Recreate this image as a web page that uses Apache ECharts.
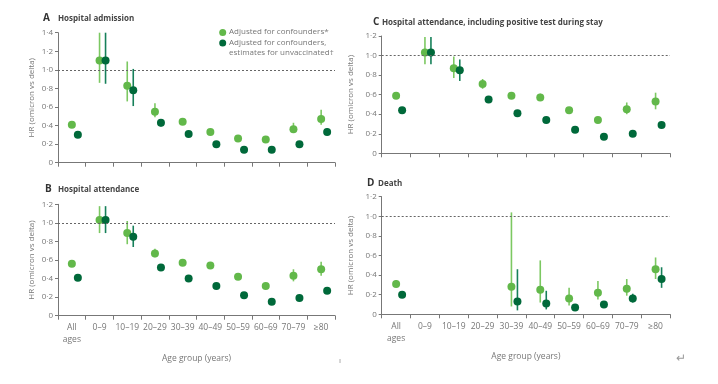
<!DOCTYPE html>
<html><head><meta charset="utf-8">
<script src="https://cdn.jsdelivr.net/npm/echarts@6/dist/echarts.min.js"></script>
<style>html,body{margin:0;padding:0;background:#fff}#c{width:718px;height:384px}</style>
</head><body><div id="c"></div>
<script>
const categories = ['All\nages','0–9','10–19','20–29','30–39','40–49','50–59','60–69','70–79','≥80'];
const legendNames = ['Adjusted for confounders*', 'Adjusted for confounders,\nestimates for unvaccinated†'];

// Panel A: Hospital admission
const A_adj    = [0.41,1.10,0.83,0.55,0.44,0.33,0.26,0.25,0.36,0.47];
const A_adj_lo = [0.39,0.86,0.66,0.49,0.41,0.31,0.24,0.23,0.32,0.41];
const A_adj_hi = [0.43,1.40,1.09,0.64,0.48,0.36,0.28,0.27,0.43,0.57];
const A_unv    = [0.30,1.10,0.78,0.43,0.31,0.20,0.14,0.14,0.20,0.33];
const A_unv_lo = [0.28,0.85,0.61,0.39,0.29,0.18,0.12,0.12,0.18,0.30];
const A_unv_hi = [0.32,1.40,1.01,0.47,0.34,0.22,0.16,0.16,0.23,0.37];
// Panel B: Hospital attendance
const B_adj    = [0.56,1.03,0.89,0.67,0.57,0.54,0.42,0.32,0.43,0.50];
const B_adj_lo = [0.54,0.89,0.77,0.63,0.54,0.51,0.39,0.29,0.37,0.43];
const B_adj_hi = [0.58,1.18,1.02,0.72,0.60,0.57,0.45,0.35,0.50,0.58];
const B_unv    = [0.41,1.03,0.85,0.52,0.40,0.32,0.22,0.15,0.19,0.27];
const B_unv_lo = [0.39,0.89,0.74,0.49,0.38,0.30,0.20,0.13,0.17,0.24];
const B_unv_hi = [0.43,1.18,0.97,0.55,0.42,0.34,0.24,0.17,0.21,0.30];
// Panel C: Hospital attendance, including positive test during stay
const C_adj    = [0.59,1.03,0.87,0.71,0.59,0.57,0.44,0.34,0.45,0.53];
const C_adj_lo = [0.57,0.91,0.77,0.66,0.56,0.54,0.41,0.31,0.40,0.45];
const C_adj_hi = [0.61,1.19,0.99,0.76,0.62,0.61,0.47,0.37,0.52,0.62];
const C_unv    = [0.44,1.03,0.85,0.55,0.41,0.34,0.24,0.17,0.20,0.29];
const C_unv_lo = [0.42,0.91,0.74,0.52,0.39,0.32,0.22,0.15,0.18,0.26];
const C_unv_hi = [0.46,1.19,0.96,0.58,0.43,0.36,0.26,0.19,0.22,0.32];
// Panel D: Death
const D_adj    = [0.31,null,null,null,0.28,0.25,0.16,0.22,0.26,0.46];
const D_adj_lo = [0.28,null,null,null,0.08,0.12,0.09,0.15,0.19,0.36];
const D_adj_hi = [0.35,null,null,null,1.04,0.55,0.27,0.34,0.36,0.58];
const D_unv    = [0.20,null,null,null,0.13,0.11,0.07,0.10,0.16,0.36];
const D_unv_lo = [0.17,null,null,null,0.04,0.05,0.05,0.08,0.12,0.27];
const D_unv_hi = [0.23,null,null,null,0.46,0.24,0.09,0.12,0.21,0.48];

const yMax = [1.4, 1.2, 1.2, 1.2];
const panelTitles = [['A','Hospital admission'],['B','Hospital attendance'],['C','Hospital attendance, including positive test during stay'],['D','Death']];

const LIGHT = '#62b84a', LIGHT_CI = '#7cc862', DARK = '#00693a', DARK_CI = '#16805a';
const FONT = '"Open Sans", "Liberation Sans", sans-serif';
const OFFSET = 6;

const panels = [
  {adj:A_adj, adjLo:A_adj_lo, adjHi:A_adj_hi, unv:A_unv, unvLo:A_unv_lo, unvHi:A_unv_hi},
  {adj:B_adj, adjLo:B_adj_lo, adjHi:B_adj_hi, unv:B_unv, unvLo:B_unv_lo, unvHi:B_unv_hi},
  {adj:C_adj, adjLo:C_adj_lo, adjHi:C_adj_hi, unv:C_unv, unvLo:C_unv_lo, unvHi:C_unv_hi},
  {adj:D_adj, adjLo:D_adj_lo, adjHi:D_adj_hi, unv:D_unv, unvLo:D_unv_lo, unvHi:D_unv_hi}
];
const grids = [
  {left:58, top:32.7, width:277, height:130},
  {left:58, top:204.3, width:277, height:111.4},
  {left:381.7, top:36, width:288.3, height:117.3},
  {left:381.7, top:196.7, width:288.3, height:117.6}
];
const showXLabels = [false, true, false, true];
const yNameGap = [22, 22, 27, 27];

function pts(vals){ const r=[]; vals.forEach((v,i)=>{ if(v!=null) r.push([i,v]); }); return r; }
function cis(lo,hi){ const r=[]; lo.forEach((v,i)=>{ if(v!=null && hi[i]!=null) r.push([i,v,hi[i]]); }); return r; }
function errRender(offset,color){
  return function(params, api){
    const i = api.value(0);
    const p1 = api.coord([i, api.value(1)]);
    const p2 = api.coord([i, api.value(2)]);
    return {type:'line', shape:{x1:p1[0]+offset, y1:p1[1], x2:p2[0]+offset, y2:p2[1]},
      style:{stroke:color, lineWidth:1.6}};
  };
}

const xAxis = [], yAxis = [], series = [];
panels.forEach((p,k)=>{
  xAxis.push({type:'category', gridIndex:k, data:categories, boundaryGap:true,
    axisLine:{lineStyle:{color:'#777', width:1}},
    axisTick:{show:true, length:4, lineStyle:{color:'#777'}},
    axisLabel:{show:showXLabels[k], color:'#777', fontSize:8.5, fontFamily:FONT, margin:6, lineHeight:12, interval:0},
    name: showXLabels[k] ? 'Age group (years)' : '', nameLocation:'middle', nameGap:38,
    nameTextStyle:{color:'#777', fontSize:8.5, fontFamily:FONT}
  });
  yAxis.push({type:'value', gridIndex:k, min:0, max:yMax[k], interval:0.2,
    axisLine:{show:true, lineStyle:{color:'#777', width:1}},
    axisTick:{show:true, length:3, lineStyle:{color:'#777'}},
    splitLine:{show:false},
    axisLabel:{color:'#777', fontSize:8, fontFamily:FONT, margin:5,
      formatter:v=> v===0 ? '0' : v.toFixed(1).replace('.','·')},
    name:'HR (omicron vs delta)', nameLocation:'middle', nameGap:yNameGap[k],
    nameTextStyle:{color:'#777', fontSize:8, fontFamily:FONT}
  });
  series.push({type:'custom', xAxisIndex:k, yAxisIndex:k, renderItem:errRender(0, LIGHT_CI), data:cis(p.adjLo,p.adjHi), z:2, silent:true});
  series.push({type:'custom', xAxisIndex:k, yAxisIndex:k, renderItem:errRender(OFFSET, DARK_CI), data:cis(p.unvLo,p.unvHi), z:2, silent:true});
  series.push({type:'scatter', name:legendNames[0], xAxisIndex:k, yAxisIndex:k, data:pts(p.adj), symbolSize:8,
    itemStyle:{color:LIGHT, opacity:1}, z:3,
    markLine:{silent:true, symbol:'none', label:{show:false}, data:[{yAxis:1}],
      lineStyle:{type:[2,2], color:'#666', width:1}}});
  series.push({type:'scatter', name:legendNames[1], xAxisIndex:k, yAxisIndex:k, data:pts(p.unv), symbolSize:8,
    symbolOffset:[OFFSET,0], itemStyle:{color:DARK, opacity:1}, z:3});
});

const titlePos = [[43,13,58],[45,184,58],[373,17,382],[367,178,378]];
const graphic = [];
panelTitles.forEach((t,k)=>{
  const [lx,ty,tx] = titlePos[k];
  graphic.push({type:'text', left:lx, top:ty, style:{text:t[0], font:'bold 10px '+FONT, fill:'#333'}});
  graphic.push({type:'text', left:tx, top:ty+1.5, style:{text:t[1], font:'bold 8px '+FONT, fill:'#444'}});
});
// legend
graphic.push({type:'circle', shape:{cx:222.7, cy:32.5, r:3.5}, style:{fill:LIGHT}});
graphic.push({type:'text', left:229, top:27.5, style:{text:legendNames[0], font:'8px '+FONT, fill:'#777'}});
graphic.push({type:'circle', shape:{cx:222.7, cy:43, r:3.5}, style:{fill:DARK}});
graphic.push({type:'text', left:229, top:38, style:{text:legendNames[1], font:'8px '+FONT, fill:'#777', lineHeight:9.8}});
graphic.push({type:'text', left:339, top:357, style:{text:'ı', font:'8px '+FONT, fill:'#888'}});
graphic.push({type:'text', left:676, top:353, style:{text:'↵', font:'12px '+FONT, fill:'#999'}});

const chart = echarts.init(document.getElementById('c'), null, {renderer:'canvas'});
chart.setOption({animation:false, backgroundColor:'#fff', grid:grids, xAxis, yAxis, series, graphic});
</script></body></html>
